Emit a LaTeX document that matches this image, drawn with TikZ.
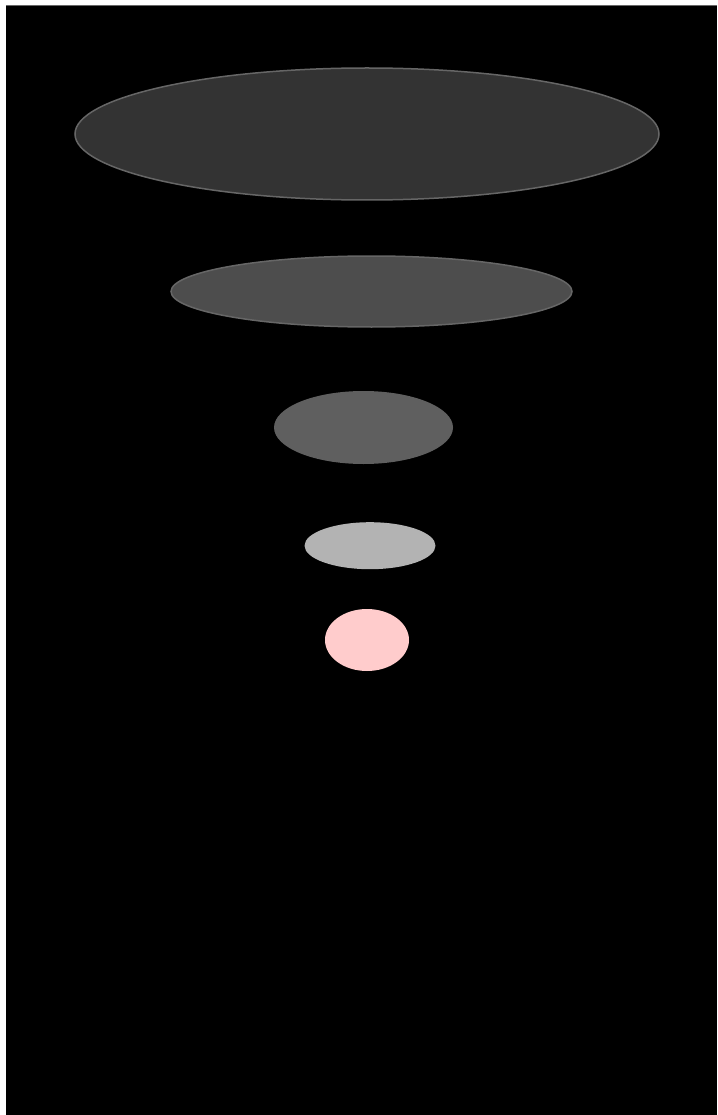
\documentclass[tikz,border=0pt]{standalone}
\usetikzlibrary{shapes.geometric}
\definecolor{e1}{HTML}{333333}
\definecolor{e2}{HTML}{4D4D4D}
\definecolor{e3}{HTML}{5F5F5F}
\definecolor{e4}{HTML}{B3B3B3}
\definecolor{e5}{HTML}{FFCCCC}
\definecolor{edge}{HTML}{666666}
\tikzset{
  disc/.style={ellipse, inner sep=0pt, draw=none},
  ringed/.style={ellipse, inner sep=0pt, draw=edge, line width=1.5pt}
}
\begin{document}
\begin{tikzpicture}[x=1pt,y=-1pt]
\useasboundingbox (0,0) rectangle (717,1115);
\fill[white] (0,0) rectangle (717,1115);
\fill[black] (6,5) rectangle (717,1115);
\draw[edge, line width=0.8pt] (6,5.4) -- (717,5.4);
\node[ringed, fill=e1, minimum width=584pt, minimum height=132pt] (n1) at (367,134) {};
\node[ringed, fill=e2, minimum width=401pt, minimum height=71pt] (n2) at (371.5,291.5) {};
\node[disc, fill=e3, minimum width=179pt, minimum height=73pt] (n3) at (363.5,427.5) {};
\node[disc, fill=e4, minimum width=131pt, minimum height=47pt] (n4) at (370,545.7) {};
\node[disc, fill=e5, minimum width=84pt, minimum height=62pt] (n5) at (367,640) {};
\end{tikzpicture}
\end{document}
